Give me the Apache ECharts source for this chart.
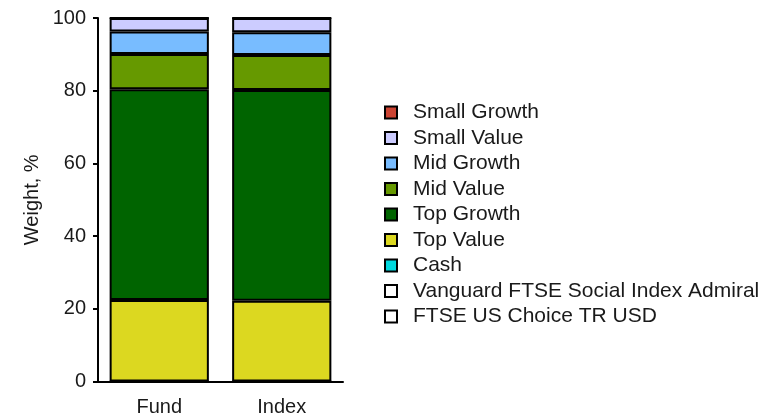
<!DOCTYPE html>
<html>
<head>
<meta charset="utf-8">
<script src="https://cdn.jsdelivr.net/npm/echarts@6/dist/echarts.min.js"></script>
<style>
  html, body { margin: 0; padding: 0; background: #fff; }
  #chart { width: 783px; height: 420px; }
</style>
</head>
<body>
<div id="chart"></div>
<script>
// Style-box weights (%) for the fund and its benchmark index
const categories = ['Fund', 'Index'];
const cash        = [0, 0];
const topValue    = [22.4, 22.2];
const topGrowth   = [58.0, 58.0];
const midValue    = [9.7, 9.6];
const midGrowth   = [6.2, 6.3];
const smallValue  = [3.7, 3.9];
const smallGrowth = [0, 0];
const yTicks = [0, 20, 40, 60, 80, 100];

const legendOrder = [
  'Small Growth', 'Small Value', 'Mid Growth', 'Mid Value',
  'Top Growth', 'Top Value', 'Cash',
  'Vanguard FTSE Social Index Admiral', 'FTSE US Choice TR USD'
];

const FONT = '"Liberation Sans", Arial, sans-serif';
const TEXT = '#1a1a1a';

function stackSeries(name, data, color) {
  return {
    name: name,
    type: 'bar',
    stack: 'weight',
    data: data,
    barCategoryGap: '19%',
    itemStyle: { color: color, borderColor: '#000', borderWidth: 2 },
    emphasis: { disabled: true }
  };
}

const chart = echarts.init(document.getElementById('chart'), null, { renderer: 'canvas' });

chart.setOption({
  animation: false,
  backgroundColor: '#fff',
  grid: { left: 98, right: 440, top: 18, bottom: 38.5, containLabel: false },
  legend: {
    orient: 'vertical',
    left: 384,
    top: 102,
    padding: 0,
    itemWidth: 12,
    itemHeight: 12,
    itemGap: 4.5,
    data: legendOrder,
    icon: 'rect',
    selectedMode: false,
    textStyle: { fontFamily: FONT, fontSize: 21, color: TEXT, lineHeight: 20, padding: [0, 0, 0, 11] }
  },
  xAxis: {
    type: 'category',
    data: categories,
    axisLine: { lineStyle: { color: '#000', width: 2 } },
    axisTick: { alignWithLabel: true, length: 5, lineStyle: { color: '#000', width: 2 } },
    axisLabel: { fontFamily: FONT, fontSize: 20, color: TEXT, margin: 16 }
  },
  yAxis: {
    type: 'value',
    min: yTicks[0],
    max: yTicks[yTicks.length - 1],
    interval: 20,
    name: 'Weight, %',
    nameLocation: 'middle',
    nameGap: 56,
    nameTextStyle: { fontFamily: FONT, fontSize: 20, color: TEXT },
    axisLine: { show: true, lineStyle: { color: '#000', width: 2 } },
    axisTick: { show: true, length: 5, lineStyle: { color: '#000', width: 2 } },
    splitLine: { show: false },
    axisLabel: { fontFamily: FONT, fontSize: 20, color: TEXT, margin: 12 }
  },
  series: [
    stackSeries('Cash', cash, '#00d8de'),
    stackSeries('Top Value', topValue, '#dcd820'),
    stackSeries('Top Growth', topGrowth, '#006400'),
    stackSeries('Mid Value', midValue, '#669900'),
    stackSeries('Mid Growth', midGrowth, '#78bcff'),
    stackSeries('Small Value', smallValue, '#ccccff'),
    stackSeries('Small Growth', smallGrowth, '#cc4433'),
    stackSeries('Vanguard FTSE Social Index Admiral', [], '#ffffff'),
    stackSeries('FTSE US Choice TR USD', [], '#ffffff')
  ]
});
</script>
</body>
</html>
